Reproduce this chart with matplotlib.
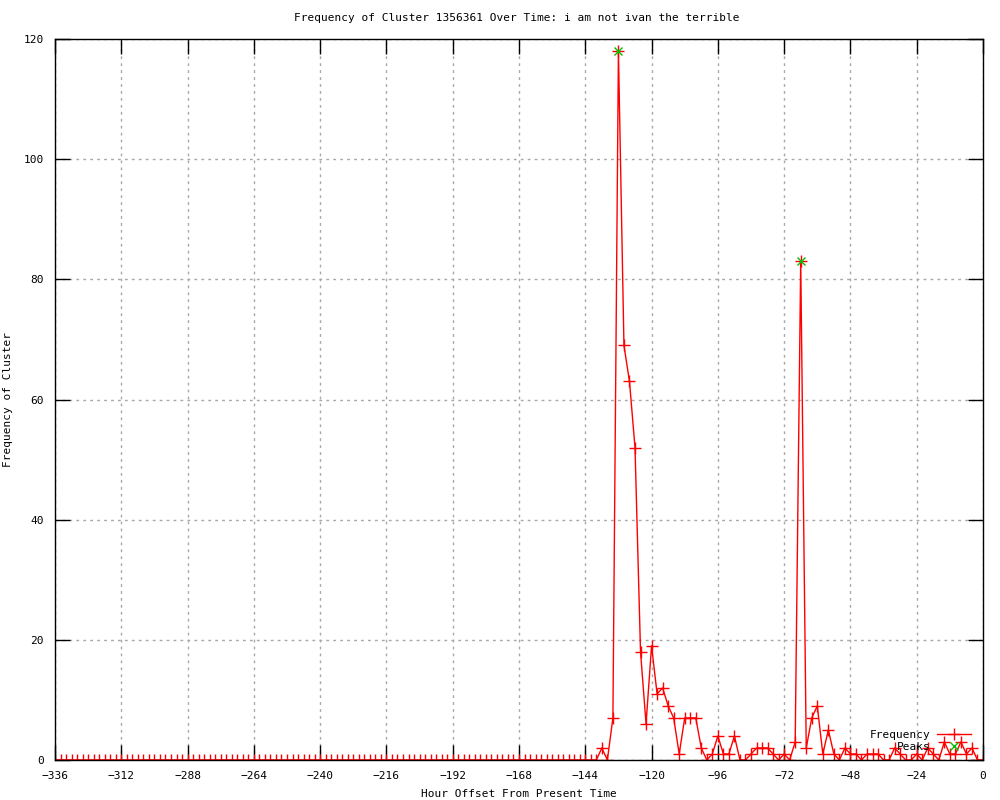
import numpy as np
import matplotlib.pyplot as plt

# hour offsets (every 2 hours) and cluster frequency
hours = np.arange(-336, 1, 2)
freq = [
    0, 0, 0, 0, 0, 0, 0, 0, 0, 0, 0, 0, 0, 0, 0, 0, 0, 0, 0, 0,
    0, 0, 0, 0, 0, 0, 0, 0, 0, 0, 0, 0, 0, 0, 0, 0, 0, 0, 0, 0,
    0, 0, 0, 0, 0, 0, 0, 0, 0, 0, 0, 0, 0, 0, 0, 0, 0, 0, 0, 0,
    0, 0, 0, 0, 0, 0, 0, 0, 0, 0, 0, 0, 0, 0, 0, 0, 0, 0, 0, 0,
    0, 0, 0, 0, 0, 0, 0, 0, 0, 0, 0, 0, 0, 0, 0, 0, 0, 0, 0,
    2, 0, 7, 118, 69, 63, 52, 18, 6, 19, 11, 12, 9, 7, 1, 7, 7, 7, 2, 0,
    1, 4, 1, 1, 4, 0, 0, 1, 2, 2, 2, 1, 0, 1, 0, 3, 83, 2, 7, 9,
    1, 5, 1, 0, 2, 1, 1, 0, 1, 1, 1, 0, 0, 2, 1, 0, 0, 1, 0, 2,
    1, 0, 3, 1, 1, 3, 1, 2, 0, 0,
]
peak_hours = [-132, -66]
peak_vals = [118, 83]

title = 'Frequency of Cluster 1356361 Over Time: i am not ivan the terrible'

plt.rcParams['font.family'] = ['DejaVu Sans Mono']
plt.rcParams['font.size'] = 8

fig = plt.figure(figsize=(10, 8), dpi=100)
ax = fig.add_axes([0.055, 0.05, 0.928, 0.90125])

ax.plot(hours, freq, color='red', lw=1, marker='+', ms=8, mew=1,
        label='Frequency')
ax.plot(peak_hours, peak_vals, ls='none', color='#00c000', marker='x', ms=6,
        mew=1, label='Peaks')

ax.set_xlim(-336, 0)
ax.set_ylim(0, 120)
ax.set_xticks(range(-336, 1, 24))
ax.set_yticks(range(0, 121, 20))
ax.grid(True, color='#a8a8a8', ls=(0, (2, 3)), lw=1)
ax.tick_params(direction='in', length=11, width=1, top=True, right=True,
               labelsize=8, pad=8)
for s in ax.spines.values():
    s.set_linewidth(1)

ax.set_xlabel('Hour Offset From Present Time', fontsize=8, labelpad=6)
ax.set_ylabel('Frequency of Cluster', fontsize=8, labelpad=8)
fig.text(0.517, 0.977, title, ha='center', va='center', fontsize=8)

ax.legend(loc='lower right', bbox_to_anchor=(0.995, 0.0), frameon=False,
          markerfirst=False, fontsize=8, handlelength=3.0, handletextpad=0.6,
          labelspacing=0.2, borderaxespad=0.3)

plt.savefig('out.png', dpi=100)
